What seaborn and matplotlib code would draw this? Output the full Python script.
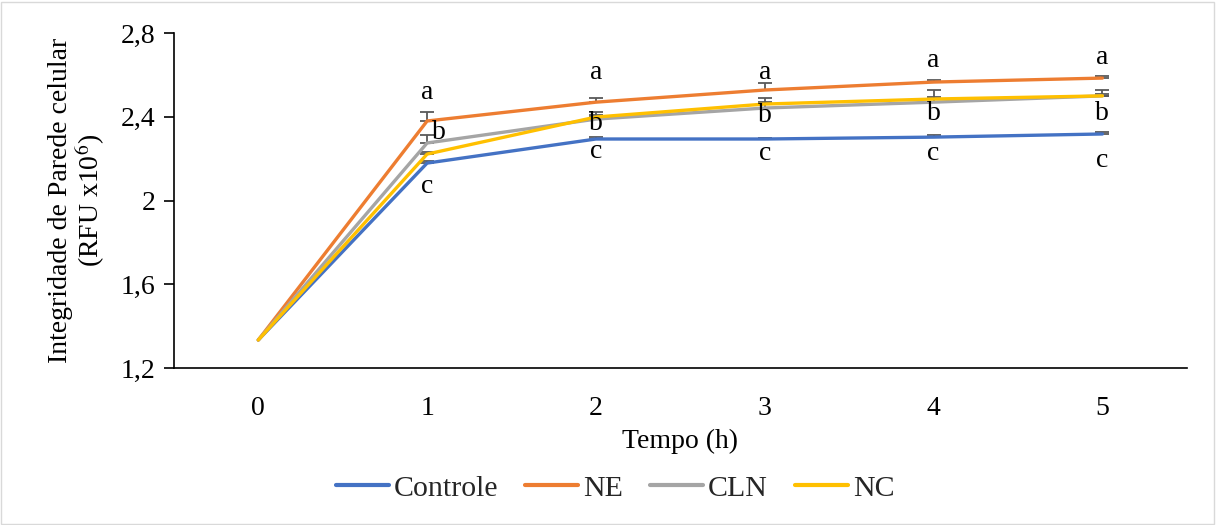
import numpy as np
import pandas as pd
import seaborn as sns
import matplotlib
matplotlib.use("Agg")
import matplotlib.pyplot as plt
from matplotlib.patches import Rectangle

# Data: cell wall integrity (RFU x10^6) over time
tempo = [0, 1, 2, 3, 4, 5]
controle = [1.334, 2.179, 2.294, 2.294, 2.303, 2.318]
ne = [1.334, 2.380, 2.470, 2.528, 2.566, 2.585]
cln = [1.334, 2.275, 2.389, 2.442, 2.470, 2.500]
nc = [1.334, 2.222, 2.399, 2.461, 2.485, 2.500]

err_controle = [0.0, 0.010, 0.010, 0.005, 0.008, 0.008]
err_ne = [0.0, 0.045, 0.020, 0.035, 0.012, 0.010]
err_cln = [0.0, 0.040, 0.035, 0.050, 0.060, 0.030]
err_nc = [0.0, 0.010, 0.010, 0.010, 0.010, 0.010]

series_names = ["Controle", "NE", "CLN", "NC"]
series_colors = ["#4472C4", "#ED7D31", "#A5A5A5", "#FFC000"]

# Significance letters and where they sit
letters_a = ["a", "a", "a", "a", "a"]
letters_b = ["b", "b", "b", "b", "b"]
letters_c = ["c", "c", "c", "c", "c"]
letter_x = [1, 2, 3, 4, 5]
a_y = [2.518, 2.614, 2.614, 2.671, 2.685]
b_y = [2.327, 2.370, 2.404, 2.418, 2.418]
c_y = [2.069, 2.232, 2.227, 2.227, 2.193]

FS = 20
FS_LEG = 21.5

sns.set_theme(style="white")
plt.rcParams["font.family"] = ["Liberation Serif", "DejaVu Serif"]
plt.rcParams["mathtext.fontset"] = "stix"

values = [controle, ne, cln, nc]
errors = [err_controle, err_ne, err_cln, err_nc]
df = pd.DataFrame({
    "Tempo": np.tile(tempo, len(series_names)),
    "valor": np.concatenate(values),
    "serie": np.repeat(series_names, len(tempo)),
})

fig = plt.figure(figsize=(12.16, 5.25), dpi=100)
ax = fig.add_axes([0.143, 0.299, 0.833, 0.638])

# Error bars (upper side only) drawn beneath the lines; points without spread are skipped
for vals, errs in zip(values, errors):
    idx = [i for i, e in enumerate(errs) if e > 0]
    xs = [tempo[i] for i in idx]
    ys = [vals[i] for i in idx]
    es = [errs[i] for i in idx]
    ax.errorbar(xs, ys, yerr=[np.zeros(len(es)), es], fmt="none",
                ecolor="#595959", elinewidth=1.3, capsize=5, capthick=1.3, zorder=2)

sns.lineplot(data=df, x="Tempo", y="valor", hue="serie", hue_order=series_names,
             palette=series_colors, linewidth=2.4, ax=ax, legend=True, zorder=3)

for x, y, t in zip(letter_x, a_y, letters_a):
    ax.text(x, y, t, ha="center", va="center", fontsize=FS, color="black")
for x, y, t in zip(letter_x, b_y, letters_b):
    xx = x + 0.07 if x == 1 else x
    ax.text(xx, y, t, ha="center", va="center", fontsize=FS, color="black")
for x, y, t in zip(letter_x, c_y, letters_c):
    ax.text(x, y, t, ha="center", va="center", fontsize=FS, color="black")

ax.set_xlim(-0.5, 5.5)
ax.set_ylim(1.2, 2.8)
ax.set_xticks(tempo)
ax.set_xticklabels([str(t) for t in tempo])
yt = [1.2, 1.6, 2.0, 2.4, 2.8]
ax.set_yticks(yt)
ax.set_yticklabels(["1,2", "1,6", "2", "2,4", "2,8"])
ax.tick_params(axis="y", which="major", left=True, length=7, width=1.2,
               color="black", labelsize=FS, pad=6, labelcolor="black")
ax.tick_params(axis="x", bottom=False, labelsize=FS, pad=14, labelcolor="black")

for s in ["top", "right"]:
    ax.spines[s].set_visible(False)
ax.spines["left"].set_color("black")
ax.spines["bottom"].set_color("black")
ax.spines["left"].set_linewidth(1.2)
ax.spines["bottom"].set_linewidth(1.2)

ax.set_xlabel("Tempo (h)", fontsize=FS, labelpad=6, color="black")
ax.set_ylabel("Integridade de Parede celular\n(RFU x10$^{6}$)", fontsize=FS,
              labelpad=10, color="black", linespacing=1.05)

handles, labels = ax.get_legend_handles_labels()
for h in handles:
    h.set_linewidth(3)
ax.get_legend().remove()
fig.legend(handles, labels, loc="center", bbox_to_anchor=(0.506, 0.07), ncol=4,
           frameon=False, fontsize=FS_LEG, handlelength=1.77, columnspacing=0.9,
           handletextpad=0.17)

# Light chart border
fig.patches.append(Rectangle((0.001, 0.002), 0.997, 0.995, transform=fig.transFigure,
                             fill=False, edgecolor="#D9D9D9", linewidth=1.0))

fig.savefig("out.png", dpi=100)
